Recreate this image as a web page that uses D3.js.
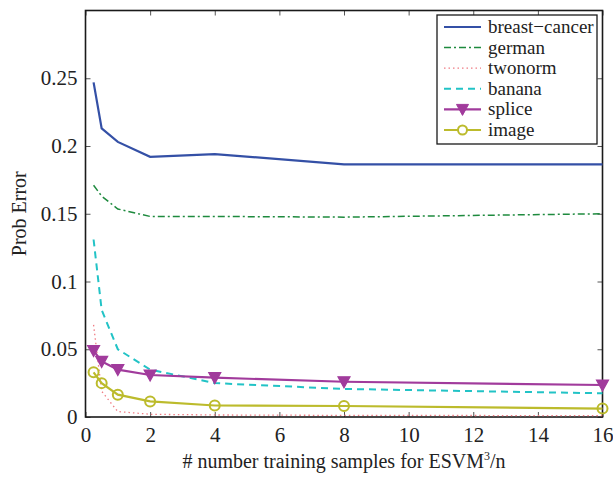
<!DOCTYPE html>
<html>
<head>
<meta charset="utf-8">
<script src="https://cdn.jsdelivr.net/npm/d3@7"></script>
<style>
  body { margin: 0; background: #fff; }
  svg text { font-family: "Times New Roman", "Liberation Serif", "DejaVu Serif", serif; fill: #222; }
</style>
</head>
<body>
<svg></svg>
<script>
// training samples multiples (x values)
let xValues = [0.25, 0.5, 1, 2, 4, 8, 16]

let breastCancer = [0.247, 0.213, 0.203, 0.192, 0.194, 0.1865, 0.1865]
let german = [0.171, 0.163, 0.1535, 0.148, 0.148, 0.1475, 0.150]
let twonorm = [0.068, 0.019, 0.004, 0.002, 0.0015, 0.0012, 0.001]
let banana = [0.131, 0.079, 0.050, 0.035, 0.025, 0.0207, 0.0175]
let splice = [0.049, 0.041, 0.035, 0.031, 0.029, 0.026, 0.0236]
let image = [0.033, 0.025, 0.0165, 0.0115, 0.0085, 0.0081, 0.0062]

let xTicks = [0, 2, 4, 6, 8, 10, 12, 14, 16]
let yTicks = [0, 0.05, 0.1, 0.15, 0.2, 0.25]
let yTickLabels = ['0', '0.05', '0.1', '0.15', '0.2', '0.25']

let seriesNames = ['breast\u2212cancer', 'german', 'twonorm', 'banana', 'splice', 'image']
let seriesData = [breastCancer, german, twonorm, banana, splice, image]

let styles = [
    {color: '#3450a6', dash: null, width: 2.2, marker: null},
    {color: '#1e8a3e', dash: '7,3,2,3', width: 1.5, marker: null},
    {color: '#f07c84', dash: '1.5,3', width: 1.3, marker: null},
    {color: '#22c3c6', dash: '7,5', width: 2, marker: null},
    {color: '#a13b9c', dash: null, width: 2.2, marker: 'tri'},
    {color: '#bcbb2c', dash: null, width: 2.2, marker: 'circle'}
]

let fontStack = '"Times New Roman", "Liberation Serif", "DejaVu Serif", serif'

let width = 613
let height = 477
let padLeft = 85.5
let padRight = 602.5
let padTop = 10.5
let padBottom = 417

let svg = d3.select('svg')
svg.attr('width', width).attr('height', height)

let xScale = d3.scaleLinear().domain([0, 16]).range([padLeft, padRight])
let yScale = d3.scaleLinear().domain([0, 0.3]).range([padBottom, padTop])

// axes with inward ticks (matlab style)
let xAxis = d3.axisBottom(xScale).tickValues(xTicks).tickSizeInner(-5).tickSizeOuter(0).tickPadding(10)
svg.append('g').attr('transform', 'translate(0,' + padBottom + ')').call(xAxis)
let yAxis = d3.axisLeft(yScale).tickValues(yTicks).tickFormat((d, i) => yTickLabels[i]).tickSizeInner(-5).tickSizeOuter(0).tickPadding(8)
svg.append('g').attr('transform', 'translate(' + padLeft + ',0)').call(yAxis)
svg.append('g').attr('transform', 'translate(0,' + padTop + ')')
    .call(d3.axisTop(xScale).tickValues(xTicks).tickSizeInner(-5).tickSizeOuter(0).tickFormat(''))
svg.append('g').attr('transform', 'translate(' + padRight + ',0)')
    .call(d3.axisRight(yScale).tickValues(yTicks).tickSizeInner(-5).tickSizeOuter(0).tickFormat(''))

svg.selectAll('g').attr('font-family', fontStack)
svg.selectAll('.tick line').attr('stroke', '#555')
svg.selectAll('.tick text').attr('font-size', 21).attr('font-family', fontStack).attr('fill', '#222')
svg.selectAll('.domain').remove()

svg.append('rect')
    .attr('x', padLeft).attr('y', padTop)
    .attr('width', padRight - padLeft).attr('height', padBottom - padTop)
    .attr('fill', 'none').attr('stroke', '#1a1a1a').attr('stroke-width', 1.6)

let line = d3.line()
    .x((d, i) => xScale(xValues[i]))
    .y((d) => yScale(d))

let triPath = 'M-6,-5L6,-5L0,6Z'

seriesData.forEach((vals, k) => {
    let st = styles[k]
    svg.append('path')
        .datum(vals)
        .attr('d', line)
        .attr('fill', 'none')
        .attr('stroke', st.color)
        .attr('stroke-width', st.width)
        .attr('stroke-dasharray', st.dash)
    if (st.marker == 'tri') {
        svg.selectAll('.tri' + k)
            .data(vals)
            .enter()
            .append('path')
            .attr('d', triPath)
            .attr('transform', (d, i) => 'translate(' + xScale(xValues[i]) + ',' + yScale(d) + ')')
            .attr('fill', st.color)
            .attr('stroke', st.color)
            .attr('stroke-width', 1.2)
    }
    if (st.marker == 'circle') {
        svg.selectAll('.circ' + k)
            .data(vals)
            .enter()
            .append('circle')
            .attr('cx', (d, i) => xScale(xValues[i]))
            .attr('cy', (d) => yScale(d))
            .attr('r', 5)
            .attr('fill', 'none')
            .attr('stroke', st.color)
            .attr('stroke-width', 2)
    }
})

// legend
let lg = svg.append('g').attr('font-family', fontStack)
lg.append('rect')
    .attr('x', 437).attr('y', 15).attr('width', 160).attr('height', 129)
    .attr('fill', '#fff').attr('stroke', '#1a1a1a').attr('stroke-width', 1.3)

seriesNames.forEach((name, k) => {
    let st = styles[k]
    let yy = 27 + k * 20.6
    lg.append('line')
        .attr('x1', 444).attr('x2', 481).attr('y1', yy).attr('y2', yy)
        .attr('stroke', st.color).attr('stroke-width', st.width)
        .attr('stroke-dasharray', st.dash)
    if (st.marker == 'tri') {
        lg.append('path').attr('d', triPath).attr('transform', 'translate(462.5,' + yy + ')')
            .attr('fill', st.color).attr('stroke', st.color)
    }
    if (st.marker == 'circle') {
        lg.append('circle').attr('cx', 462.5).attr('cy', yy).attr('r', 4.5)
            .attr('fill', '#fff').attr('stroke', st.color).attr('stroke-width', 2)
    }
    lg.append('text')
        .attr('x', 488).attr('y', yy + 6)
        .attr('font-family', fontStack)
        .attr('font-size', 19)
        .text(name)
})

// axis labels
svg.append('text')
    .attr('x', (padLeft + padRight) / 2).attr('y', 468)
    .attr('text-anchor', 'middle')
    .attr('font-family', fontStack)
    .attr('font-size', 20)
    .html('# number training samples for ESVM<tspan dy="-8" font-size="12">3</tspan><tspan dy="8">/n</tspan>')

svg.append('text')
    .attr('transform', 'translate(26,' + ((padTop + padBottom) / 2) + ') rotate(-90)')
    .attr('text-anchor', 'middle')
    .attr('font-family', fontStack)
    .attr('font-size', 20)
    .text('Prob Error')
</script>
</body>
</html>
